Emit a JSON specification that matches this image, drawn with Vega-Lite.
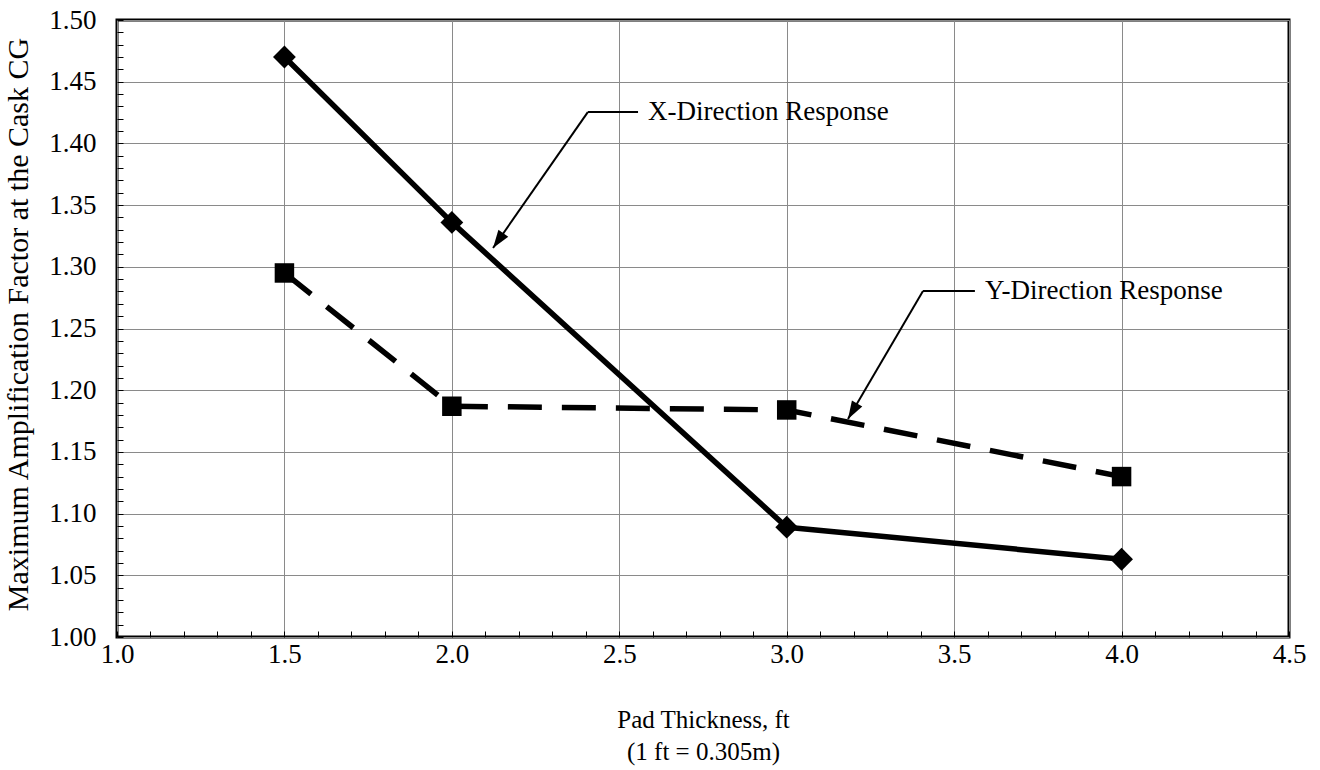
{
  "$schema": "https://vega.github.io/schema/vega-lite/v6.json",
  "width": 1172,
  "height": 617,
  "autosize": "none",
  "padding": {"left": 117, "top": 20, "right": 31, "bottom": 133},
  "background": "white",
  "config": {
    "font": "Liberation Serif",
    "view": {"stroke": "black", "strokeWidth": 3},
    "axis": {
      "labelFont": "Liberation Serif",
      "titleFont": "Liberation Serif",
      "labelColor": "black",
      "titleColor": "black",
      "titleFontWeight": "normal",
      "domain": false,
      "gridColor": "#8a8a8a",
      "gridWidth": 1,
      "tickColor": "black",
      "tickWidth": 1,
      "tickCount": 200,
      "labelOverlap": false,
      "labelFlush": false,
      "labelBound": false
    }
  },
  "datasets": {
    "series": [
      {"series": "X-Direction Response", "thickness": 1.5, "factor": 1.47},
      {"series": "X-Direction Response", "thickness": 2.0, "factor": 1.336},
      {"series": "X-Direction Response", "thickness": 3.0, "factor": 1.089},
      {"series": "X-Direction Response", "thickness": 4.0, "factor": 1.063},
      {"series": "Y-Direction Response", "thickness": 1.5, "factor": 1.295},
      {"series": "Y-Direction Response", "thickness": 2.0, "factor": 1.187},
      {"series": "Y-Direction Response", "thickness": 3.0, "factor": 1.184},
      {"series": "Y-Direction Response", "thickness": 4.0, "factor": 1.13}
    ],
    "notes": [
      {"label": "X-Direction Response", "elbowX": 2.406, "elbowY": 1.4254, "endX": 2.556, "textX": 2.586, "tipX": 2.123, "tipY": 1.3152, "angle": 214.9},
      {"label": "Y-Direction Response", "elbowX": 3.407, "elbowY": 1.2804, "endX": 3.562, "textX": 3.592, "tipX": 3.183, "tipY": 1.1767, "angle": 210.4}
    ]
  },
  "layer": [
    {
      "data": {"name": "series"},
      "transform": [{"filter": "datum.series === 'X-Direction Response'"}],
      "mark": {"type": "line", "color": "black", "strokeWidth": 5.5, "strokeJoin": "round"},
      "encoding": {
        "x": {
          "field": "thickness", "type": "quantitative",
          "scale": {"domain": [1, 4.5], "nice": false, "zero": false},
          "axis": {
            "values": [1.0,1.1,1.2,1.3,1.4,1.5,1.6,1.7,1.8,1.9,2.0,2.1,2.2,2.3,2.4,2.5,2.6,2.7,2.8,2.9,3.0,3.1,3.2,3.3,3.4,3.5,3.6,3.7,3.8,3.9,4.0,4.1,4.2,4.3,4.4,4.5],
            "tickCount": 200,
            "labelExpr": "abs(datum.value*2 - round(datum.value*2)) < 0.001 ? format(datum.value, '.1f') : ''",
            "gridOpacity": {"condition": {"test": "abs(datum.value*2 - round(datum.value*2)) < 0.001", "value": 1}, "value": 0},
            "tickSize": -6,
            "labelPadding": 10,
            "labelFontSize": 27,
            "title": ["Pad Thickness, ft", "(1 ft = 0.305m)"],
            "titleFontSize": 25,
            "titleLineHeight": 32,
            "titlePadding": 40
          }
        },
        "y": {
          "field": "factor", "type": "quantitative",
          "scale": {"domain": [1, 1.5], "nice": false, "zero": false},
          "axis": {
            "values": [1.00,1.01,1.02,1.03,1.04,1.05,1.06,1.07,1.08,1.09,1.10,1.11,1.12,1.13,1.14,1.15,1.16,1.17,1.18,1.19,1.20,1.21,1.22,1.23,1.24,1.25,1.26,1.27,1.28,1.29,1.30,1.31,1.32,1.33,1.34,1.35,1.36,1.37,1.38,1.39,1.40,1.41,1.42,1.43,1.44,1.45,1.46,1.47,1.48,1.49,1.50],
            "tickCount": 200,
            "labelExpr": "abs(datum.value*20 - round(datum.value*20)) < 0.001 ? format(datum.value, '.2f') : ''",
            "gridOpacity": {"condition": {"test": "abs(datum.value*20 - round(datum.value*20)) < 0.001", "value": 1}, "value": 0},
            "tickSize": -6,
            "labelPadding": 27,
            "labelFontSize": 27,
            "title": "Maximum Amplification Factor at the Cask CG",
            "titleFontSize": 30,
            "titleX": -84,
            "titleY": 304,
            "titleBaseline": "bottom",
            "titleAngle": -90,
            "titleAlign": "center"
          }
        }
      }
    },
    {
      "data": {"name": "series"},
      "transform": [{"filter": "datum.series === 'X-Direction Response'"}],
      "mark": {"type": "point", "shape": "diamond", "filled": true, "color": "black", "size": 520, "opacity": 1},
      "encoding": {
        "x": {"field": "thickness", "type": "quantitative"},
        "y": {"field": "factor", "type": "quantitative"}
      }
    },
    {
      "data": {"name": "series"},
      "transform": [{"filter": "datum.series === 'Y-Direction Response'"}],
      "mark": {"type": "line", "color": "black", "strokeWidth": 5.5, "strokeDash": [34, 20]},
      "encoding": {
        "x": {"field": "thickness", "type": "quantitative"},
        "y": {"field": "factor", "type": "quantitative"}
      }
    },
    {
      "data": {"name": "series"},
      "transform": [{"filter": "datum.series === 'Y-Direction Response'"}],
      "mark": {"type": "point", "shape": "square", "filled": true, "color": "black", "size": 380, "opacity": 1},
      "encoding": {
        "x": {"field": "thickness", "type": "quantitative"},
        "y": {"field": "factor", "type": "quantitative"}
      }
    },
    {
      "data": {"name": "notes"},
      "mark": {"type": "rule", "color": "black", "strokeWidth": 2},
      "encoding": {
        "x": {"field": "elbowX", "type": "quantitative"},
        "y": {"field": "elbowY", "type": "quantitative"},
        "x2": {"field": "endX"}
      }
    },
    {
      "data": {"name": "notes"},
      "mark": {"type": "rule", "color": "black", "strokeWidth": 2},
      "encoding": {
        "x": {"field": "elbowX", "type": "quantitative"},
        "y": {"field": "elbowY", "type": "quantitative"},
        "x2": {"field": "tipX"},
        "y2": {"field": "tipY"}
      }
    },
    {
      "data": {"name": "notes"},
      "mark": {"type": "point", "shape": "M0,0L-0.4,1.2L0.4,1.2Z", "filled": true, "color": "black", "size": 900, "opacity": 1},
      "encoding": {
        "x": {"field": "tipX", "type": "quantitative"},
        "y": {"field": "tipY", "type": "quantitative"},
        "angle": {"field": "angle", "type": "quantitative", "scale": null}
      }
    },
    {
      "data": {"name": "notes"},
      "mark": {"type": "text", "align": "left", "baseline": "middle", "font": "Liberation Serif", "fontSize": 27, "color": "black"},
      "encoding": {
        "x": {"field": "textX", "type": "quantitative"},
        "y": {"field": "elbowY", "type": "quantitative"},
        "text": {"field": "label"}
      }
    }
  ]
}
